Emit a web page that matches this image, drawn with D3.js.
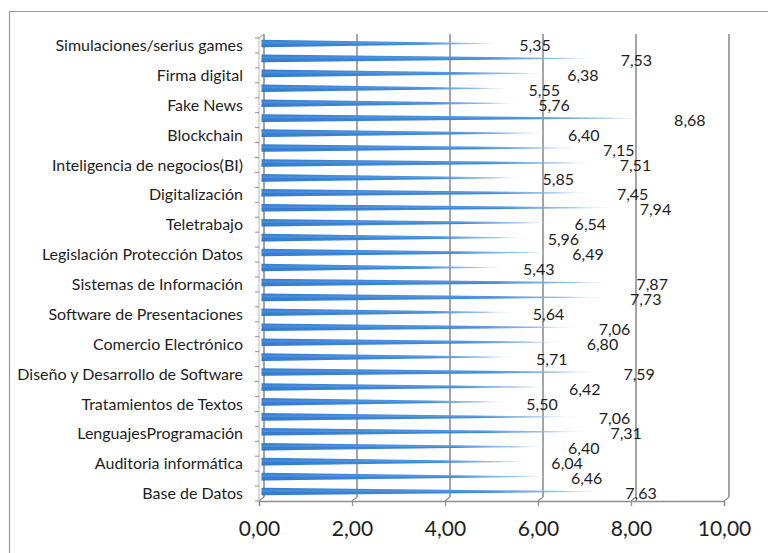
<!DOCTYPE html>
<html lang="es">
<head>
<meta charset="UTF-8">
<title>Valoración por tema</title>
<script src="https://d3js.org/d3.v7.min.js"></script>
<style>
  body { margin: 0; background: #fff; }
  svg { display: block; font-family: Lato, "Open Sans", sans-serif; }
</style>
</head>
<body>
<div id="chart"></div>
<script>
// rows top to bottom; only every other category label is shown in the original
const categories = [
  "Simulaciones/serius games", "", "Firma digital", "", "Fake News", "",
  "Blockchain", "", "Inteligencia de negocios(BI)", "", "Digitalización", "",
  "Teletrabajo", "", "Legislación Protección Datos", "", "Sistemas de Información", "",
  "Software de Presentaciones", "", "Comercio Electrónico", "",
  "Diseño y Desarrollo de Software", "", "Tratamientos de Textos", "",
  "LenguajesProgramación", "", "Auditoria informática", "", "Base de Datos"
];
const values = [
  5.35, 7.53, 6.38, 5.55, 5.76, 8.68, 6.40, 7.15, 7.51, 5.85, 7.45,
  7.94, 6.54, 5.96, 6.49, 5.43, 7.87, 7.73, 5.64, 7.06, 6.80, 5.71,
  7.59, 6.42, 5.50, 7.06, 7.31, 6.40, 6.04, 6.46, 7.63
];
const xTicks = [0, 2, 4, 6, 8, 10];

const width = 768, height = 553;
const depth = { dx: -5, dy: 4 };   // 3d offset back wall -> front
const fmt = v => d3.format(".2f")(v).replace(".", ",");

const svg = d3.select("#chart").append("svg")
  .attr("width", width).attr("height", height);

// outer frame (top and left only visible)
svg.append("path")
  .attr("d", "M9.5,553 L9.5,11.5 L768,11.5")
  .attr("fill", "none").attr("stroke", "#9a9a9a").attr("stroke-width", 1.2);

const x = d3.scaleLinear().domain([0, 10]).range([264, 729]);
const y = d3.scaleBand().domain(d3.range(values.length)).range([34, 497]);

const grid = svg.append("g").attr("stroke", "#8e8e8e").attr("fill", "none");

// back wall gridlines + floor diagonals
xTicks.forEach(t => {
  if (t > 0) {
    grid.append("line")
      .attr("x1", x(t)).attr("x2", x(t))
      .attr("y1", y.range()[0]).attr("y2", y.range()[1])
      .attr("stroke-width", 1.6);
  }
  grid.append("line")
    .attr("x1", x(t)).attr("y1", y.range()[1])
    .attr("x2", x(t) + depth.dx).attr("y2", y.range()[1] + depth.dy)
    .attr("stroke-width", 1.2);
});

// left wall: back line and front line
grid.append("line")
  .attr("x1", x(0)).attr("x2", x(0))
  .attr("y1", y.range()[0]).attr("y2", y.range()[1])
  .attr("stroke-width", 1.6);
grid.append("line")
  .attr("x1", x(0) + depth.dx).attr("x2", x(0) + depth.dx)
  .attr("y1", y.range()[0] + depth.dy).attr("y2", y.range()[1] + depth.dy)
  .attr("stroke", "#b5b5b5").attr("stroke-width", 1);
grid.append("line")
  .attr("x1", x(0)).attr("y1", y.range()[0])
  .attr("x2", x(0) + depth.dx).attr("y2", y.range()[0] + depth.dy)
  .attr("stroke-width", 1);

// category tick marks at band boundaries
d3.range(values.length + 1).forEach(i => {
  const yy = y.range()[0] + i * y.step() + depth.dy;
  grid.append("line")
    .attr("x1", x(0) + depth.dx - 4).attr("x2", x(0) + depth.dx)
    .attr("y1", yy).attr("y2", yy)
    .attr("stroke-width", 1);
});

// front value axis
const axisY = y.range()[1] + depth.dy;
const xFront = x.copy().range(x.range().map(v => v + depth.dx));
const xAxis = svg.append("g")
  .attr("transform", `translate(0,${axisY})`)
  .call(d3.axisBottom(xFront).tickValues(xTicks).tickFormat(fmt).tickSize(5).tickPadding(15));
xAxis.select(".domain").attr("stroke", "#8e8e8e").attr("stroke-width", 1.4);
xAxis.selectAll(".tick line").attr("stroke", "#8e8e8e").attr("stroke-width", 1.2);
xAxis.selectAll(".tick text")
  .attr("font-size", 21).attr("fill", "#1e1e1e")
  .attr("font-family", "Lato, 'Open Sans', sans-serif");

// cone gradient
const defs = svg.append("defs");
const grad = defs.append("linearGradient").attr("id", "cone")
  .attr("x1", 0).attr("x2", 1).attr("y1", 0).attr("y2", 0);
[[0, "#2e7ad2", 1], [0.65, "#3d88db", 1], [0.85, "#7db1e8", 0.85], [1, "#ffffff", 0]]
  .forEach(([o, c, a]) => grad.append("stop").attr("offset", o).attr("stop-color", c).attr("stop-opacity", a));
const gradV = defs.append("linearGradient").attr("id", "coneShade")
  .attr("x1", 0).attr("x2", 0).attr("y1", 0).attr("y2", 1);
[[0, "#ffffff", 0], [0.45, "#ffffff", 0.15], [0.6, "#ffffff", 0], [1, "#0b3d80", 0.2]]
  .forEach(([o, c, a]) => gradV.append("stop").attr("offset", o).attr("stop-color", c).attr("stop-opacity", a));

const half = 3.8;
const barDx = depth.dx / 2, barDy = depth.dy / 2;
const rows = svg.append("g").selectAll("g").data(values).join("g")
  .attr("transform", (d, i) => `translate(${barDx},${y(i) + y.bandwidth() / 2 + barDy})`);

const conePath = d => `M${x(0)},${-half} L${x(d)},0 L${x(0)},${half} Z`;
rows.append("path").attr("d", conePath).attr("fill", "url(#cone)");
rows.append("path").attr("d", conePath).attr("fill", "url(#coneShade)");

// data labels
rows.append("text")
  .attr("x", d => x(d) + 9)
  .attr("y", 2)
  .attr("dy", "0.35em")
  .attr("font-size", 16)
  .attr("fill", "#1e1e1e")
  .text(fmt);

// category labels
svg.append("g").selectAll("text").data(categories).join("text")
  .attr("x", 243)
  .attr("y", (d, i) => y(i) + y.bandwidth() / 2 + barDy + 2)
  .attr("dy", "0.35em")
  .attr("text-anchor", "end")
  .attr("font-size", 16)
  .attr("fill", "#1e1e1e")
  .text(d => d);
</script>
</body>
</html>
